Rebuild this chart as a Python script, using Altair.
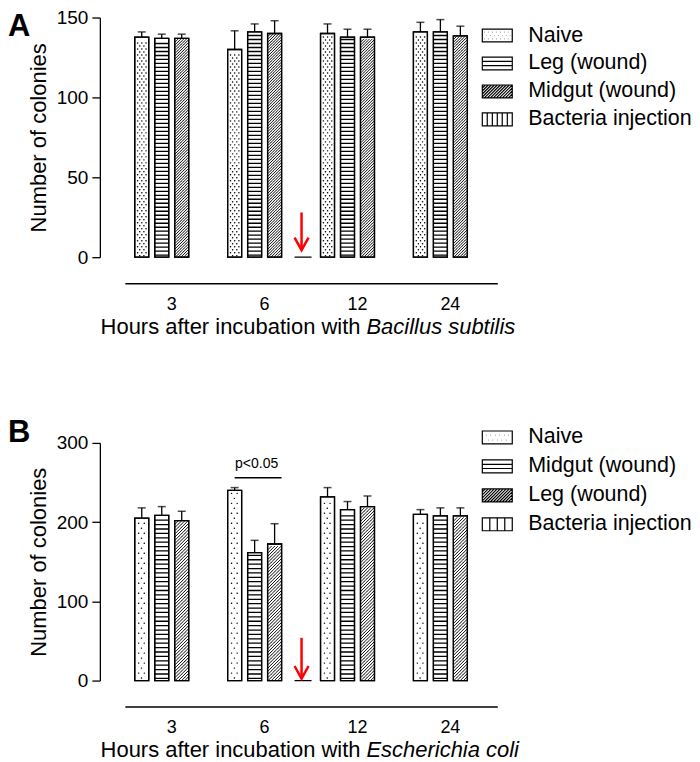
import altair as alt
import pandas as pd
import numpy as np

# ---------------- data ----------------
HOURS = ["3", "6", "12", "24"]

A_GROUPS = ["Naive", "Leg (wound)", "Midgut (wound)", "Bacteria injection"]
A_NAIVE_MEAN = [137.7, 130.0, 140.0, 141.0]
A_NAIVE_SEM = [3.3, 11.7, 6.0, 6.0]
A_LEG_MEAN = [137.0, 141.0, 137.7, 141.0]
A_LEG_SEM = [2.6, 5.0, 5.0, 7.7]
A_MIDGUT_MEAN = [137.0, 140.0, 137.7, 138.5]
A_MIDGUT_SEM = [2.6, 8.0, 5.0, 6.1]
A_BACTERIA_HOURS = ["6"]
A_BACTERIA_MEAN = [0.0]

B_GROUPS = ["Naive", "Midgut (wound)", "Leg (wound)", "Bacteria injection"]
B_NAIVE_MEAN = [205.0, 240.2, 231.8, 209.9]
B_NAIVE_SEM = [13.0, 3.4, 11.8, 5.9]
B_MIDGUT_MEAN = [208.6, 161.4, 215.8, 207.8]
B_MIDGUT_SEM = [11.0, 15.6, 10.2, 10.2]
B_LEG_MEAN = [202.0, 172.4, 219.6, 207.8]
B_LEG_SEM = [11.7, 25.6, 13.4, 10.2]
B_BACTERIA_HOURS = ["6"]
B_BACTERIA_MEAN = [0.0]

A_YTICKS = [0, 50, 100, 150]
B_YTICKS = [0, 100, 200, 300]

FONT = "Liberation Sans"
PLOT_W = 373


# ---------------- pattern helpers (style only) ----------------
def seg(x1, y1, x2, y2):
    return f"M{x1:.3f},{y1:.3f}L{x2:.3f},{y2:.3f}"


def dot_path(points):
    return "".join(seg(x, y, x + 0.02, y) for x, y in points)


def diag_path(half_w, half_h, spacing):
    parts = []
    lim = half_w + half_h + spacing
    for b in np.arange(-lim, lim + 1e-9, spacing):
        x1 = max(b - half_h, -half_w)
        x2 = min(b + half_h, half_w)
        if x2 - x1 > 1e-6:
            parts.append(seg(x1, b - x1, x2, b - x2))
    return "".join(parts)


RECT = "M-1,-0.43L1,-0.43L1,0.43L-1,0.43Z"


def legend_paths(dense):
    if dense:
        pts = []
        for i, y in enumerate([-0.22, 0.0, 0.22]):
            off = 0.0 if i % 2 == 0 else 0.13
            pts += [(x + off, y) for x in np.arange(-0.85, 0.8, 0.26)]
        vert = [-0.67, -0.33, 0.0, 0.33, 0.67]
    else:
        pts = [(x, -0.15) for x in np.arange(-0.75, 0.8, 0.3)]
        pts += [(x + 0.15, 0.18) for x in np.arange(-0.75, 0.6, 0.3)]
        vert = [-0.5, 0.0, 0.5]
    dots = RECT + dot_path(pts)
    horiz = RECT + seg(-1, -0.14, 1, -0.14) + seg(-1, 0.14, 1, 0.14)
    diag = RECT + diag_path(1.0, 0.43, 0.2)
    vpath = RECT + "".join(seg(x, -0.43, x, 0.43) for x in vert)
    return [dots, horiz, diag, vpath]


def panel(letter, letter_y, groups, means, sems, bact_hours, bact_means, ytop, yticks, height,
          tex, leg_xy, dense_legend, italic_text, arrow, pval=None):
    px_per_unit = height / ytop

    bar_rows, err_rows = [], []
    for g, m_list, s_list in zip(groups[:3], means, sems):
        for h, m, s in zip(HOURS, m_list, s_list):
            bar_rows.append({"hour": h, "group": g, "mean": m})
            err_rows.append({"hour": h, "group": g, "mean": m, "upper": m + s})
    bars_df = pd.DataFrame(bar_rows)
    err_df = pd.DataFrame(err_rows)
    bact_df = pd.DataFrame({"hour": bact_hours, "group": groups[3], "mean": bact_means,
                            "top": arrow[0], "tip": arrow[1]})

    # texture tiles (decoration of the bars, positioned in data units)
    tex_rows = []
    for pat, g, m_list in zip(["dots", "horiz", "diag"], groups[:3], means):
        period = tex[pat]["period_px"] / px_per_unit
        for h, m in zip(HOURS, m_list):
            n = int(np.floor(m / period + 1e-9))
            for k in range(n):
                tex_rows.append({"hour": h, "group": g, "pat": pat, "pos": (k + 0.5) * period})
    tex_df = pd.DataFrame(tex_rows)

    X = alt.X("hour:N",
              scale=alt.Scale(domain=HOURS, paddingInner=0.204, paddingOuter=0.107),
              axis=alt.Axis(title=None, labelAngle=0, ticks=False, tickSize=0,
                            domainColor="black", domainWidth=1.5, labelFontSize=18,
                            labelColor="black", labelPadding=12, offset=26, labelFont=FONT))
    XO = alt.XOffset("group:N", scale=alt.Scale(domain=groups, paddingInner=0.3, paddingOuter=0))
    yaxis = alt.Axis(values=yticks, offset=25, tickSize=8, tickWidth=1.3, tickColor="black",
                     domainColor="black", domainWidth=1.3, labelFontSize=19, labelPadding=4,
                     labelColor="black", labelFont=FONT, titleFont=FONT, titleFontSize=22,
                     titleFontWeight="normal", titlePadding=6, titleColor="black", grid=False)
    yscale = alt.Scale(domain=[0, ytop], nice=False, zero=True)

    def Y(field):
        return alt.Y(f"{field}:Q", scale=yscale, axis=yaxis, title="Number of colonies")

    layers = []
    layers.append(alt.Chart(bars_df).mark_bar(fill="white", stroke="black", strokeWidth=1.3)
                  .encode(x=X, xOffset=XO, y=Y("mean")))
    for pat in ["dots", "horiz", "diag"]:
        layers.append(
            alt.Chart(tex_df).transform_filter(alt.datum.pat == pat)
            .mark_point(shape=tex[pat]["path"], size=196, filled=False, color="black",
                        strokeWidth=tex[pat]["sw"], strokeCap="round", opacity=1)
            .encode(x=X, xOffset=XO, y=Y("pos")))
    layers.append(alt.Chart(bars_df).mark_bar(fillOpacity=0, stroke="black", strokeWidth=1.3)
                  .encode(x=X, xOffset=XO, y=Y("mean")))
    layers.append(alt.Chart(err_df).mark_rule(color="black", strokeWidth=1.3)
                  .encode(x=X, xOffset=XO, y=Y("mean"), y2="upper:Q"))
    layers.append(alt.Chart(err_df).mark_tick(color="black", size=8, thickness=1.5)
                  .encode(x=X, xOffset=XO, y=Y("upper")))

    # bacteria-injection group (zero colonies) and the red arrow pointing at it
    layers.append(alt.Chart(bact_df).mark_bar(width=17, xOffset=38.5, fill="white",
                                              stroke="black", strokeWidth=1.3)
                  .encode(x=X, y=Y("mean")))
    layers.append(alt.Chart(bact_df).mark_rule(color="#ff0000", strokeWidth=2.5, xOffset=37)
                  .encode(x=X, y=Y("top"), y2="tip:Q"))
    layers.append(alt.Chart(bact_df).mark_point(shape="M-1,-1.8L0,0L1,-1.8", size=196,
                                                filled=False, color="#ff0000", strokeWidth=2.5,
                                                opacity=1, xOffset=37)
                  .encode(x=X, y=Y("tip")))

    # legend (shape legend from an empty layer with explicit domain)
    leg_df = pd.DataFrame({"group": groups})
    layers.append(
        alt.Chart(leg_df).transform_filter("false")
        .mark_point(filled=False, color="black", strokeWidth=1.2, size=900, opacity=1)
        .encode(x=alt.value(0), y=alt.value(0),
                shape=alt.Shape("group:N",
                                scale=alt.Scale(domain=groups, range=legend_paths(dense_legend)),
                                legend=alt.Legend(title=None, orient="none", legendX=leg_xy[0],
                                                  legendY=leg_xy[1], labelFontSize=21.5,
                                                  labelFont=FONT, labelColor="black",
                                                  labelOffset=15, rowPadding=leg_xy[2],
                                                  symbolSize=900, symbolStrokeWidth=1.2,
                                                  symbolStrokeColor="black", labelLimit=400,
                                                  padding=0))))

    one = pd.DataFrame({"k": [0]})
    # panel letter
    layers.append(alt.Chart(one).mark_text(text=letter, font=FONT, fontSize=31, fontWeight="bold",
                                           align="left", baseline="top", color="black")
                  .encode(x=alt.value(-117), y=alt.value(letter_y)))
    # x-axis title with italic species name
    layers.append(alt.Chart(one).mark_text(text="Hours after incubation with", font=FONT,
                                           fontSize=22, align="right", baseline="alphabetic",
                                           color="black")
                  .encode(x=alt.value(236), y=alt.value(height + 77)))
    layers.append(alt.Chart(one).mark_text(text=italic_text, font=FONT, fontSize=22,
                                           fontStyle="italic", align="left",
                                           baseline="alphabetic", color="black")
                  .encode(x=alt.value(242), y=alt.value(height + 77)))
    if pval is not None:
        layers.append(alt.Chart(one).mark_rule(color="black", strokeWidth=1.3)
                      .encode(x=alt.value(110), x2=alt.value(157), y=alt.datum(pval[0])))
        layers.append(alt.Chart(one).mark_text(text="p<0.05", font=FONT, fontSize=14,
                                               align="center", baseline="middle", color="black")
                      .encode(x=alt.value(132), y=alt.datum(pval[1])))

    return alt.layer(*layers).properties(width=PLOT_W, height=height)


def tex_spec(dots_px, dots_rows, horiz_px, diag_px):
    h_d = dots_px / 7.0
    pts = []
    for i, xs in enumerate(dots_rows):
        y = -h_d / 4 if i == 0 else h_d / 4
        pts += [(x, y) for x in xs]
    h_g = diag_px / 7.0
    return {
        "dots": {"period_px": dots_px, "path": dot_path(pts), "sw": 1.4},
        "horiz": {"period_px": horiz_px, "path": seg(-0.93, 0, 0.93, 0), "sw": 1.3},
        "diag": {"period_px": diag_px, "path": diag_path(0.93, h_g / 2, h_g), "sw": 0.9},
    }


texA = tex_spec(6.0, [[-0.6, 0.0, 0.6], [-0.3, 0.3]], 4.0, 2.8)
texB = tex_spec(10.0, [[-0.45, 0.35], [-0.05]], 4.4, 3.2)

pA = panel("A", -6, A_GROUPS,
           [A_NAIVE_MEAN, A_LEG_MEAN, A_MIDGUT_MEAN],
           [A_NAIVE_SEM, A_LEG_SEM, A_MIDGUT_SEM],
           A_BACTERIA_HOURS, A_BACTERIA_MEAN, 150, A_YTICKS, 240,
           texA, (357, 2, 1), True, "Bacillus subtilis", (28, 4.4))
pB = panel("B", -24.6, B_GROUPS,
           [B_NAIVE_MEAN, B_MIDGUT_MEAN, B_LEG_MEAN],
           [B_NAIVE_SEM, B_MIDGUT_SEM, B_LEG_SEM],
           B_BACTERIA_HOURS, B_BACTERIA_MEAN, 300, B_YTICKS, 238,
           texB, (357, -21.5, 2), False, "Escherichia coli", (54, 2.5), pval=(256, 274))

chart = (alt.vconcat(pA, pB, spacing=79)
         .resolve_scale(x="independent", y="independent", xOffset="independent",
                        shape="independent")
         .properties(padding=0)
         .configure(font=FONT)
         .configure_view(stroke=None))

chart.save("out.html", embed_options={"renderer": "svg", "actions": False})
